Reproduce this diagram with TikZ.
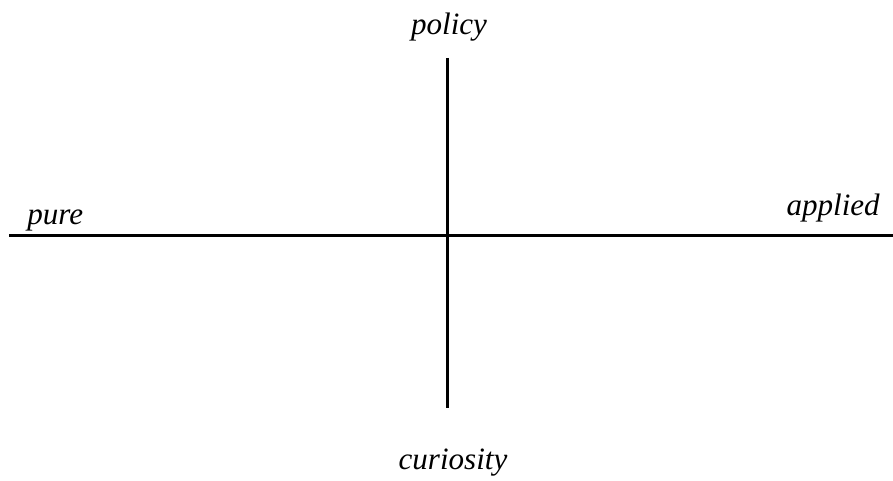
\documentclass[tikz,border=0pt]{standalone}
\usepackage{fontspec}
\setmainfont{Liberation Serif}
\usetikzlibrary{positioning}

\begin{document}
\begin{tikzpicture}[
    x=0.75pt, y=0.75pt,
    every node/.style={font=\fontsize{23.3}{28}\selectfont\itshape},
    axislabel/.style={inner sep=0pt},
    axis/.style={line width=2.25pt, black}
]
\useasboundingbox (0,0) rectangle (893,481);

% Axis end points
\coordinate (left) at (9,245);
\coordinate (right) at (893,245);
\coordinate (top) at (447,423);
\coordinate (bottom) at (447,73);

% Labels
\node[axislabel, anchor=base] (policy) at (449,446) {policy};
\node[axislabel, anchor=base] (curiosity) at (453,11) {curiosity};
\node[axislabel, anchor=base west] (pure) at (27,256) {pure};
\node[axislabel, anchor=base east] (applied) at (880,265) {applied};

% Axes
\draw[axis] (left) -- (right);
\draw[axis] (top) -- (bottom);

\end{tikzpicture}
\end{document}
